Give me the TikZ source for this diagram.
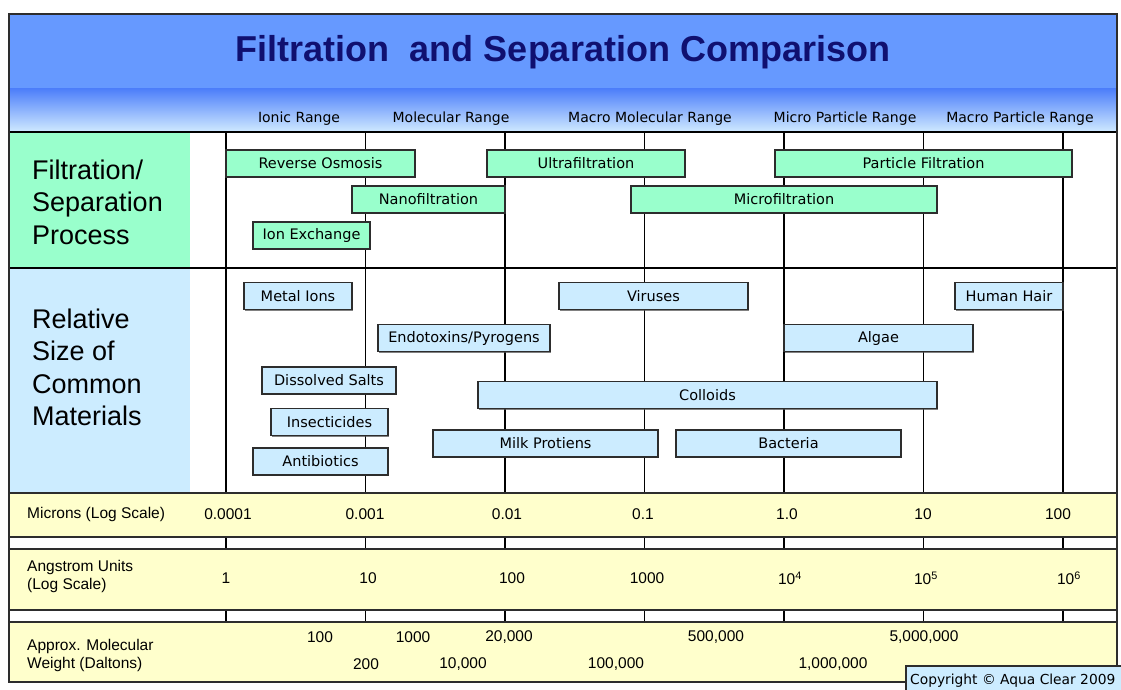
\documentclass[tikz,border=0pt]{standalone}
\usepackage{fontspec}
\setmainfont{Liberation Sans}
\newfontfamily\labfont{DejaVu Sans}
\usetikzlibrary{shadows}

\definecolor{titleblue}{RGB}{102,153,255}
\definecolor{bandtop}{RGB}{75,125,250}
\definecolor{bandmid}{RGB}{165,205,255}
\definecolor{bandbot}{RGB}{208,234,255}
\definecolor{navy}{RGB}{16,16,112}
\definecolor{procgreen}{RGB}{153,255,204}
\definecolor{matblue}{RGB}{204,236,255}
\definecolor{scaleyellow}{RGB}{255,255,204}
\definecolor{edgegray}{RGB}{45,45,45}

\begin{document}
\begin{tikzpicture}[x=1pt, y=-1pt,
	gridline/.style={black, line width=1.1pt},
	procbox/.style={draw=edgegray,
		fill=procgreen,
		line width=1.1pt,
		minimum height=27,
		inner sep=0pt,
		font=\labfont\fontsize{14.5}{17}\selectfont,
		drop shadow={shadow xshift=1pt, shadow yshift=-1pt, opacity=0.7, fill=black!70}},
	matbox/.style={procbox, fill=matblue},
	rangelab/.style={font=\labfont\fontsize{14}{17}\selectfont, inner sep=0pt},
	sidelab/.style={font=\fontsize{27}{32.5}\selectfont, align=left, inner sep=0pt, anchor=west},
	scalelab/.style={font=\fontsize{15.5}{18}\selectfont, align=left, inner sep=0pt},
	scaleband/.style={draw=edgegray, fill=scaleyellow, line width=1.2pt}]

\useasboundingbox (0,0) rectangle (1121,689);
\clip (0,0) rectangle (1121,689);

% Title band
\fill[titleblue] (9,14) rectangle (1117,88);
\shade[top color=bandtop, middle color=bandmid, bottom color=bandbot] (9,88) rectangle (1117,132);
\node[font=\bfseries\fontsize{36}{40}\selectfont, text=navy] (title) at (563,52) {Filtration\ \ and Separation Comparison};

% Range labels
\foreach \xc/\txt [count=\i] in {299/Ionic Range, 451/Molecular Range, 650/Macro Molecular Range,
	845/Micro Particle Range, 1020/Macro Particle Range}
	\node[rangelab] (range\i) at (\xc,119) {\txt};

% Row backgrounds
\fill[procgreen] (9,132) rectangle (190,268);
\fill[matblue] (9,268) rectangle (190,492);
\draw[gridline] (9,132) -- (1117,132);
\draw[gridline] (9,268) -- (1117,268);

% Decade lines
\foreach \xg in {226,365.5,505,644.5,784,923.5,1063}{
	\draw[gridline] (\xg,132) -- (\xg,492);
	\draw[gridline] (\xg,537) -- (\xg,549);
	\draw[gridline] (\xg,610) -- (\xg,622);
}

% Scale bands
\foreach \ya/\yb in {493/537, 549/610, 622/682}
	\draw[scaleband] (9,\ya) rectangle (1117,\yb);

% Filtration / separation processes
\node[procbox, minimum width=189] (ro) at (320.5,163.5) {Reverse Osmosis};
\node[procbox, minimum width=198] (uf) at (586,163.5) {Ultrafiltration};
\node[procbox, minimum width=297] (pf) at (923.5,163.5) {Particle Filtration};
\node[procbox, minimum width=153] (nf) at (428.5,199.5) {Nanofiltration};
\node[procbox, minimum width=306] (mf) at (784,199.5) {Microfiltration};
\node[procbox, minimum width=117] (ix) at (311.5,235.5) {Ion Exchange};

% Common materials
\node[matbox, minimum width=108] (metal) at (298,296) {Metal Ions};
\node[matbox, minimum width=189] (virus) at (653.5,296) {Viruses};
\node[matbox, minimum width=108] (hair) at (1009,296) {Human Hair};
\node[matbox, minimum width=172] (endo) at (464,338) {Endotoxins/Pyrogens};
\node[matbox, minimum width=189] (algae) at (878.5,338) {Algae};
\node[matbox, minimum width=134] (salts) at (329,380.5) {Dissolved Salts};
\node[matbox, minimum width=459] (colloid) at (707.5,395) {Colloids};
\node[matbox, minimum width=117] (insect) at (329.5,422) {Insecticides};
\node[matbox, minimum width=225] (milk) at (545.5,443.5) {Milk Protiens};
\node[matbox, minimum width=225] (bact) at (788.5,443.5) {Bacteria};
\node[matbox, minimum width=135] (anti) at (320.5,461.5) {Antibiotics};

% Side labels
\node[sidelab] (procLab) at (32,202) {Filtration/\\Separation\\Process};
\node[sidelab] (matLab) at (32,367.5) {Relative\\Size of\\Common\\Materials};

% Scale labels
\node[scalelab, anchor=west] (micLab) at (27,514) {Microns (Log Scale)};
\node[scalelab, anchor=west] (angLab) at (27,576) {Angstrom Units\\(Log Scale)};
\node[scalelab, anchor=west] (mwLab) at (27,655) {Approx. Molecular\\Weight (Daltons)};

\foreach \xc/\txt [count=\i] in {228/0.0001, 365/0.001, 507/0.01, 643/0.1, 787/1.0, 923/10, 1058/100}
	\node[scalelab] (mic\i) at (\xc,514) {\txt};
\foreach \xc/\txt [count=\i] in {226/1, 368/10, 512/100, 647/1000,
	790/10\textsuperscript{4}, 926/10\textsuperscript{5}, 1069/10\textsuperscript{6}}
	\node[scalelab] (ang\i) at (\xc,578) {\txt};
\foreach \xc/\txt [count=\i] in {320/100, 413/1000, 509/{20,000}, 716/{500,000}, 924/{5,000,000}}
	\node[scalelab] (mwTop\i) at (\xc,637) {\txt};
\foreach \xc/\txt [count=\i] in {366/200, 463/{10,000}, 616/{100,000}, 833/{1,000,000}}
	\node[scalelab] (mwBot\i) at (\xc,664) {\txt};

% Outer frame
\draw[edgegray, line width=1.2pt] (9,14) rectangle (1117,682);

% Copyright
\draw[edgegray, fill=matblue, line width=1.1pt] (906,666) rectangle (1140,700);
\node[font=\labfont\fontsize{13.8}{16}\selectfont, anchor=west, inner sep=0pt] (copy) at (910,680.5) {Copyright © Aqua Clear 2009};

\end{tikzpicture}
\end{document}
